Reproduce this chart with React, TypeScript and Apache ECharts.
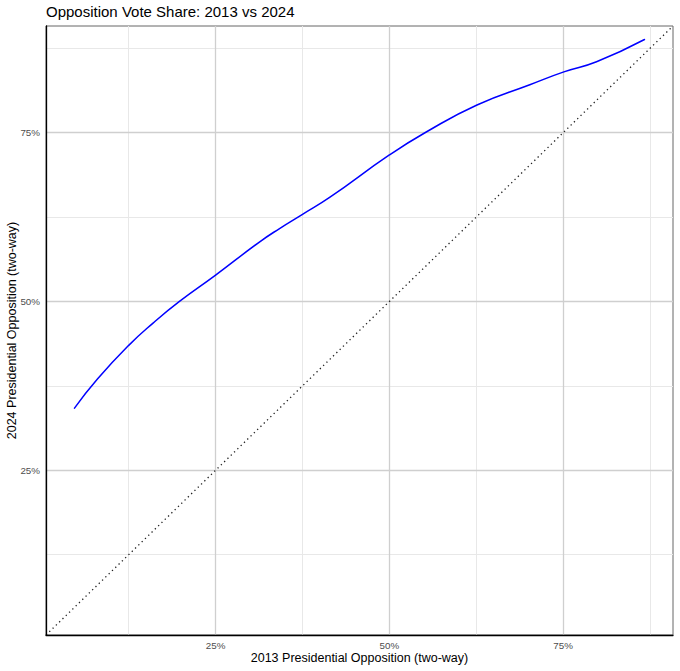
import React, { useEffect, useRef } from "react";
import * as echarts from "echarts";

// Smoothed relationship (percent values)
const x2013: number[] = [4.7, 8, 12.5, 16, 19.8, 25, 31.3, 34.2, 37.5, 41.4, 50, 55.3, 62.6, 70.2, 75.1, 79.8, 86.7];
const y2024: number[] = [34.2, 38.5, 43.5, 46.8, 50.0, 53.9, 58.8, 60.8, 62.9, 65.4, 71.7, 75.1, 79.1, 82.1, 84.0, 85.5, 88.8];

// Axis limits shared by both axes (percent)
const axisLimits: number[] = [0.6, 90.8];
const tickLabels: number[] = [25, 50, 75];
const majorGrid: number[] = [25, 50, 75];
const minorGrid: number[] = [12.5, 37.5, 62.5, 87.5];

const TITLE = "Opposition Vote Share: 2013 vs 2024";
const X_NAME = "2013 Presidential Opposition (two-way)";
const Y_NAME = "2024 Presidential Opposition (two-way)";

export default function App() {
  const ref = useRef<HTMLDivElement>(null);

  useEffect(() => {
    if (!ref.current) return;
    const chart = echarts.init(ref.current, null, { renderer: "svg" });

    const font = "'Liberation Sans', Arial, Helvetica, sans-serif";
    const majorStyle = { color: "#cfcfcf", width: 1.3, type: "solid" as const };
    const minorStyle = { color: "#e8e8e8", width: 1, type: "solid" as const };

    const gridLines: any[] = [];
    minorGrid.forEach((v) => {
      gridLines.push({ xAxis: v, lineStyle: minorStyle });
      gridLines.push({ yAxis: v, lineStyle: minorStyle });
    });
    majorGrid.forEach((v) => {
      gridLines.push({ xAxis: v, lineStyle: majorStyle });
      gridLines.push({ yAxis: v, lineStyle: majorStyle });
    });

    const identity = axisLimits.map((v) => [v, v]);
    const curve = x2013.map((x, i) => [x, y2024[i]]);

    const axisCommon = {
      type: "value" as const,
      min: axisLimits[0],
      max: axisLimits[1],
      z: 20,
      axisLine: { show: true, onZero: false, lineStyle: { color: "#000", width: 1.3 } },
      axisTick: { show: false },
      splitLine: { show: false },
      nameLocation: "middle" as const,
      nameMoveOverlap: false,
      nameTextStyle: { color: "#000", fontSize: 12.5, fontFamily: font },
    };

    chart.setOption({
      animation: false,
      backgroundColor: "#fff",
      title: {
        text: TITLE,
        left: 46,
        top: 4,
        padding: 0,
        textStyle: { fontSize: 15, fontWeight: "normal", color: "#000", fontFamily: font },
      },
      grid: {
        left: 46,
        right: 7,
        top: 26,
        bottom: 36,
        containLabel: false,
        outerBoundsMode: "none",
        show: true,
        borderColor: "#666",
        borderWidth: 1,
        backgroundColor: "transparent",
      },
      xAxis: {
        ...axisCommon,
        name: X_NAME,
        nameGap: 16,
        axisLabel: {
          customValues: tickLabels,
          formatter: (v: number) => `${v}%`,
          color: "#4d4d4d",
          fontSize: 9.8,
          fontFamily: font,
          margin: 5,
        },
      },
      yAxis: {
        ...axisCommon,
        name: Y_NAME,
        nameGap: 28,
        axisLabel: {
          customValues: tickLabels,
          formatter: (v: number) => `${v}%`,
          color: "#4d4d4d",
          fontSize: 9.8,
          fontFamily: font,
          margin: 6,
        },
      },
      series: [
        {
          name: "grid",
          type: "line",
          z: 1,
          silent: true,
          data: identity,
          symbol: "none",
          showSymbol: false,
          lineStyle: { opacity: 0 },
          markLine: {
            z: 1,
            silent: true,
            symbol: "none",
            label: { show: false },
            animation: false,
            data: gridLines,
          },
        },
        {
          name: "identity",
          type: "line",
          z: 8,
          silent: true,
          data: identity,
          symbol: "none",
          showSymbol: false,
          lineStyle: { color: "#222", width: 1.3, type: [1.3, 3.3] },
        },
        {
          name: "fit",
          type: "line",
          z: 10,
          silent: true,
          data: curve,
          symbol: "none",
          showSymbol: false,
          smooth: true,
          lineStyle: { color: "#0000ff", width: 1.5, cap: "round", join: "round" },
        },
      ],
    });

    return () => chart.dispose();
  }, []);

  return (
    <div
      ref={ref}
      style={{ position: "absolute", left: 0, top: 0, width: 680, height: 671, background: "#fff" }}
    />
  );
}
